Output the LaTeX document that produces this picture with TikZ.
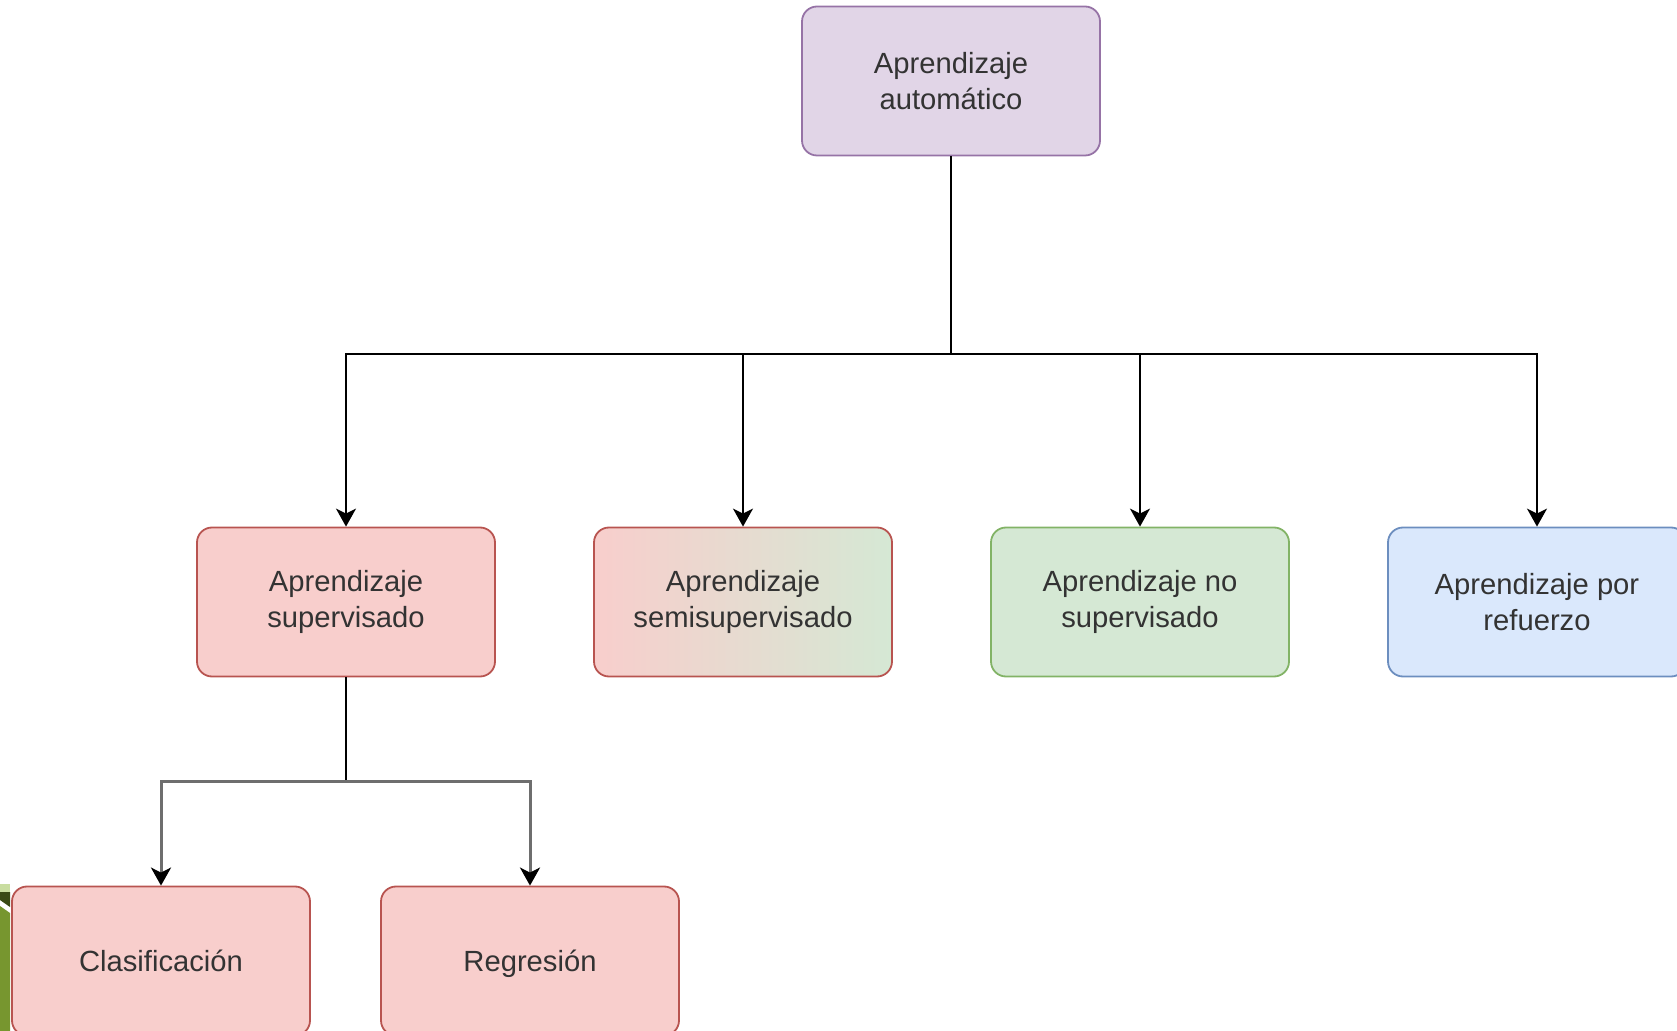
\documentclass[tikz,border=0pt]{standalone}
\usepackage{fontspec}
\setmainfont{Liberation Sans}
\usetikzlibrary{arrows.meta}

\definecolor{txtgray}{HTML}{333333}
\definecolor{lilafill}{HTML}{E1D5E7}
\definecolor{liladraw}{HTML}{9673A6}
\definecolor{rojofill}{HTML}{F8CECC}
\definecolor{rojodraw}{HTML}{B85450}
\definecolor{verdefill}{HTML}{D5E8D4}
\definecolor{verdedraw}{HTML}{82B366}
\definecolor{azulfill}{HTML}{DAE8FC}
\definecolor{azuldraw}{HTML}{6C8EBF}
\definecolor{lineagris}{HTML}{6E6E6E}
\definecolor{olivo}{HTML}{77962F}
\definecolor{olivoosc}{HTML}{3A4A16}
\definecolor{olivoclaro}{HTML}{C9DDA0}

\tikzset{
  caja/.style={draw, rounded corners=7.5pt, line width=0.9pt, minimum width=149pt, minimum height=74.5pt,
    align=center, text=txtgray, font=\fontsize{14.6}{18.2}\selectfont, inner sep=0pt},
  unalinea/.style={text height=10.6pt, text depth=0pt},
  lila/.style={caja, fill=lilafill, draw=liladraw},
  rojo/.style={caja, fill=rojofill, draw=rojodraw},
  verde/.style={caja, fill=verdefill, draw=verdedraw},
  azul/.style={caja, fill=azulfill, draw=azuldraw},
  mixto/.style={caja, left color=rojofill, right color=verdefill, draw=rojodraw},
  conector/.style={line width=1pt, black},
  flecha/.style={conector, -{Stealth[length=9pt, width=10pt, inset=2.5pt, color=black]}},
  flechagris/.style={line width=1.5pt, lineagris, -{Stealth[length=9pt, width=10pt, inset=2.5pt, color=black]}}
}

\begin{document}
\begin{tikzpicture}[x=0.5pt, y=-0.5pt]
    \useasboundingbox (0,0) rectangle (1677,1031);
    \clip (0,0) rectangle (1677,1031);

    % adorno verde del borde
    \fill[olivoclaro] (0,884) -- (10,884) -- (10,892) -- (0,892) -- cycle;
    \fill[olivoosc] (0,892) -- (10,892) -- (10,907) -- (0,900) -- cycle;
    \fill[olivo] (0,906) -- (10,913) -- (10,1031) -- (0,1031) -- cycle;

    % nivel 1
    \node[lila] (automatico) at (951,81) {Aprendizaje\\automático};

    % nivel 2
    \node[rojo]  (supervisado) at (346,602) {Aprendizaje\\supervisado};
    \node[mixto] (semi) at (743,602) {Aprendizaje\\semisupervisado};
    \node[verde] (nosup) at (1140,602) {Aprendizaje no\\supervisado};
    \node[azul]  (refuerzo) at (1537,602) {Aprendizaje por\\refuerzo};

    % nivel 3
    \node[rojo, unalinea] (clasificacion) at (161,961) {Clasificación};
    \node[rojo, unalinea] (regresion) at (530,961) {Regresión};

    \coordinate (bus1) at (951,354);
    \coordinate (bus2) at (346,782);

    \draw[conector] (automatico.south) -- (bus1);
    \draw[flecha] (bus1) -| (supervisado.north);
    \draw[flecha] (bus1) -| (semi.north);
    \draw[flecha] (bus1) -| (nosup.north);
    \draw[flecha] (bus1) -| (refuerzo.north);

    \draw[conector] (supervisado.south) -- (bus2);
    \draw[flechagris] (bus2) -| (clasificacion.north);
    \draw[flechagris] (bus2) -| (regresion.north);

\end{tikzpicture}
\end{document}
